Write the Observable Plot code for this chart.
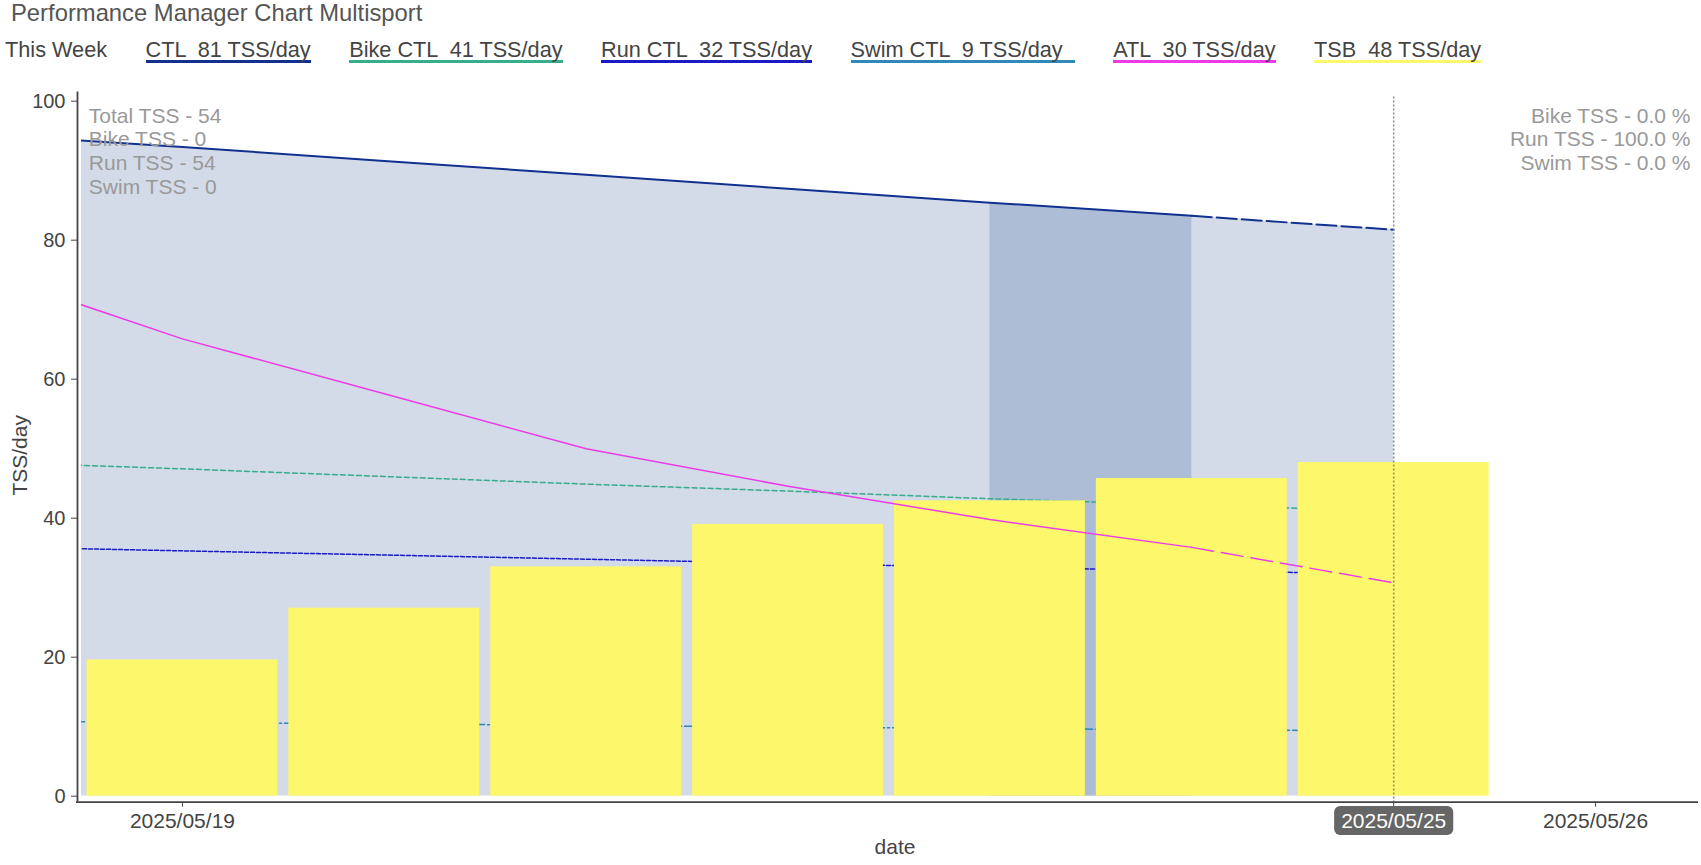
<!DOCTYPE html>
<html><head><meta charset="utf-8">
<script src="https://cdn.jsdelivr.net/npm/d3@7"></script>
<script src="https://cdn.jsdelivr.net/npm/@observablehq/plot@0.6"></script>
<style>
body{margin:0;background:#fff;font-family:'Liberation Sans',Arial,sans-serif;}
#header{position:relative;height:80px;width:1701px;}
#title{position:absolute;left:11px;top:0px;font-size:23.8px;line-height:26px;color:#555;}
#legend{position:absolute;left:5px;top:40px;display:flex;gap:38.5px;font-size:21.7px;line-height:20px;color:#444;white-space:pre;}
#legend span{padding-bottom:0;border-bottom:3px solid transparent;}
#chart svg{display:block;}
</style></head>
<body>
<div id="header"><div id="title"></div><div id="legend"></div></div>
<div id="chart"></div>
<script>
// ---- texts ----
const titleText = "Performance Manager Chart Multisport";
const weekLabel = "This Week";
const legendNames = ["CTL", "Bike CTL", "Run CTL", "Swim CTL", "ATL", "TSB"];
const legendValues = [81, 41, 32, 9, 30, 48];
const legendUnit = "TSS/day";
const seriesColors = ["#12318f", "#36ad8b", "#1b1bc4", "#2e89b8", "#ec3be6", "#fdf86b"];
const leftNotes = ["Total TSS - 54", "Bike TSS - 0", "Run TSS - 54", "Swim TSS - 0"];
const rightNotes = ["Bike TSS - 0.0 %", "Run TSS - 100.0 %", "Swim TSS - 0.0 %"];
const xLabel = "date";
const yLabel = "TSS/day";

// ---- data ----
const dayDates = ["2025-05-18","2025-05-19","2025-05-20","2025-05-21","2025-05-22","2025-05-23","2025-05-24","2025-05-25"];
const ctlValues  = [95.3, 93.4, 91.4, 89.4, 87.4, 85.4, 83.5, 81.5];
const bikeValues = [48.1, 47.1, 46.0, 44.9, 43.9, 42.8, 41.9, 41.0];
const runValues  = [35.9, 35.3, 34.7, 34.1, 33.5, 32.9, 32.5, 31.9];
const swimValues = [10.85, 10.6, 10.4, 10.2, 9.95, 9.75, 9.55, 9.4];
const atlValues  = [75.6, 65.8, 57.9, 50.0, 44.6, 39.8, 35.8, 30.7];
const tsbDates = ["2025-05-19","2025-05-20","2025-05-21","2025-05-22","2025-05-23","2025-05-24","2025-05-25"];
const tsbValues = [19.6, 27.05, 33.0, 39.1, 42.5, 45.7, 48.0];
const highlightRange = ["2025-05-23", "2025-05-24"];
const projectionStart = "2025-05-24";
const todayDate = "2025-05-25";
const xTickDates = ["2025-05-19", "2025-05-25", "2025-05-26"];
const yTicks = [0, 20, 40, 60, 80, 100];
const xDomain = ["2025-05-18T12:00Z", "2025-05-26T12:00Z"];
const yDomain = [0, 100.6];

// ---- header ----
document.getElementById("title").textContent = titleText;
const legend = d3.select("#legend");
legend.append("span").text(weekLabel);
legendNames.forEach((n, i) => {
  const v = String(legendValues[i]);
  legend.append("span")
    .style("border-bottom-color", seriesColors[i])
    .text(`${n}  ${v} ${legendUnit}` + (v.length < 2 ? "  " : ""));
});

// ---- build table ----
const parse = s => new Date(s.length > 10 ? s : s + "T00:00Z");
const series = dayDates.map((d, i) => ({
  date: parse(d), ctl: ctlValues[i], bike: bikeValues[i], run: runValues[i],
  swim: swimValues[i], atl: atlValues[i]
}));
const tsb = tsbDates.map((d, i) => ({date: parse(d), v: tsbValues[i]}));
const projT = +parse(projectionStart);
const solid = series.filter(d => +d.date <= projT);
const dashed = series.filter(d => +d.date >= projT);
const hl = series.filter(d => +d.date >= +parse(highlightRange[0]) && +d.date <= +parse(highlightRange[1]));
const today = parse(todayDate);
const fmt = d3.utcFormat("%Y/%m/%d");
const [cCTL, cBike, cRun, cSwim, cATL, cTSB] = seriesColors;

const chart = Plot.plot({
  width: 1701, height: 785,
  marginLeft: 81, marginRight: 5, marginTop: 16.5, marginBottom: 69.3,
  style: {fontFamily: "'Liberation Sans', Arial, sans-serif", fontSize: "20px", color: "#444", background: "white", overflow: "visible"},
  x: {type: "utc", domain: xDomain.map(parse)},
  y: {domain: yDomain},
  marks: [
    Plot.areaY(series, {x: "date", y: "ctl", fill: "#d3dbe8", clip: true}),
    Plot.areaY(hl, {x: "date", y: "ctl", fill: "#adbdd6", clip: true}),
    Plot.lineY(series, {x: "date", y: "bike", stroke: cBike, strokeWidth: 1.5, strokeDasharray: "5,3", clip: true}),
    Plot.lineY(series, {x: "date", y: "run", stroke: cRun, strokeWidth: 1.5, strokeDasharray: "4,2", clip: true}),
    Plot.lineY(series, {x: "date", y: "swim", stroke: cSwim, strokeWidth: 1.5, strokeDasharray: "8,3,2,3", clip: true}),
    Plot.rectY(tsb, {x1: d => d3.utcHour.offset(d.date, -12), x2: d => d3.utcHour.offset(d.date, 12), y: "v", insetLeft: 5.5, insetRight: 5.5, fill: cTSB}),
    Plot.lineY(solid, {x: "date", y: "atl", stroke: cATL, strokeWidth: 1.5, clip: true}),
    Plot.lineY(dashed, {x: "date", y: "atl", stroke: cATL, strokeWidth: 1.5, strokeDasharray: "22,8", clip: true}),
    Plot.lineY(solid, {x: "date", y: "ctl", stroke: cCTL, strokeWidth: 2, clip: true}),
    Plot.lineY(dashed, {x: "date", y: "ctl", stroke: cCTL, strokeWidth: 2, strokeDasharray: "20,5", clip: true}),
    Plot.ruleX([today], {stroke: "#888", strokeWidth: 1.5, strokeDasharray: "2,2", insetBottom: -6}),
    Plot.ruleX([parse(xDomain[0])], {dx: -4, insetTop: -5, insetBottom: -6, stroke: "#444", strokeWidth: 1.8}),
    Plot.ruleY([yDomain[0]], {dy: 6, insetLeft: -5, insetRight: -2, stroke: "#444", strokeWidth: 1.8}),
    Plot.axisY(yTicks, {tickSize: 6, tickPadding: 6, dx: -4, fontSize: 20, label: null, stroke: "#444"}),
    Plot.axisX(xTickDates.map(parse), {tickSize: 5, tickPadding: 6, dy: 6, fontSize: 21, tickFormat: fmt, label: null, stroke: "#444"}),
    Plot.text([xLabel], {text: d => d, frameAnchor: "bottom", dy: 58, dx: 6, fontSize: 21, fill: "#444"}),
    Plot.text([yLabel], {text: d => d, frameAnchor: "left", rotate: -90, dx: -61, dy: 49, fontSize: 21, fill: "#444"}),
    Plot.text([leftNotes.join("\n")], {text: d => d, frameAnchor: "top-left", dx: 7.3, dy: 9, lineHeight: 1.125, fontSize: 21, fill: "#999"}),
    Plot.text([rightNotes.join("\n")], {text: d => d, frameAnchor: "top-right", dx: -6, dy: 9, lineHeight: 1.125, fontSize: 21, fill: "#999"})
  ]
});
document.getElementById("chart").appendChild(chart);

// pill behind today's tick label
chart.querySelectorAll('g[aria-label="x-axis tick label"] text').forEach(t => {
  if (t.textContent === fmt(today)) {
    const b = t.getBBox();
    const r = document.createElementNS("http://www.w3.org/2000/svg", "rect");
    r.setAttribute("x", b.x - 7); r.setAttribute("y", b.y - 3);
    r.setAttribute("width", b.width + 14); r.setAttribute("height", b.height + 6);
    r.setAttribute("rx", 6); r.setAttribute("fill", "#666");
    const tr = t.getAttribute("transform"); if (tr) r.setAttribute("transform", tr);
    t.parentNode.insertBefore(r, t);
    t.setAttribute("fill", "white");
  }
});
</script>
</body></html>
